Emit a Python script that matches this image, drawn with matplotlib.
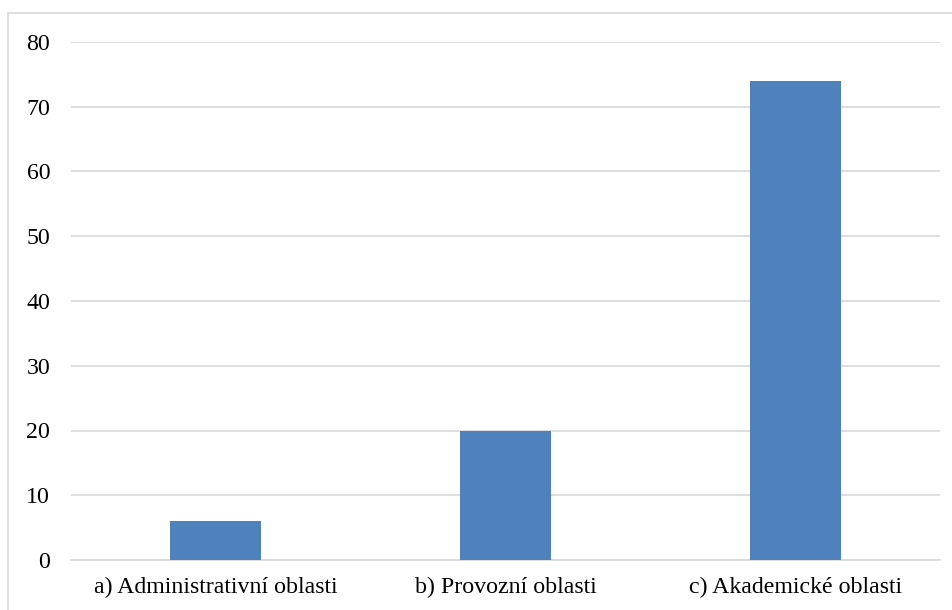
import matplotlib.pyplot as plt
from matplotlib.patches import Rectangle

# [data]
categories = ["a) Administrativní oblasti", "b) Provozní oblasti", "c) Akademické oblasti"]
values = [6, 20, 74]
yticks = [0, 10, 20, 30, 40, 50, 60, 70, 80]

plt.rcParams['font.family'] = ['Liberation Serif', 'DejaVu Serif']

W, H = 953, 610
fig = plt.figure(figsize=(W / 100, H / 100), dpi=100)
ax = fig.add_axes([71 / W, 1 - 560 / H, (940 - 71) / W, (560 - 42) / H])

# outer chart border
fig.patches.append(Rectangle((8 / W, -0.1), 1.2, 1.1 - 13 / H + 0.0, transform=fig.transFigure,
                             fill=False, edgecolor='#d9d9d9', linewidth=1.2))

x = range(len(categories))
ax.bar(x, values, width=0.315, color='#4f81bd', zorder=3)

ax.set_xlim(-0.5, len(categories) - 0.5)
ax.set_ylim(0, 80)
ax.set_yticks(yticks)
ax.set_xticks(list(x))
ax.set_xticklabels(categories)
ax.yaxis.grid(True, color='#d9d9d9', linewidth=1.2, zorder=0)
for s in ['top', 'right', 'left']:
    ax.spines[s].set_visible(False)
ax.spines['bottom'].set_color('#d9d9d9')
ax.spines['bottom'].set_linewidth(1.2)
ax.tick_params(axis='both', length=0, labelsize=17.2, colors='black')
ax.tick_params(axis='y', pad=15)
ax.tick_params(axis='x', pad=12)

fig.savefig('out.png', dpi=100)
